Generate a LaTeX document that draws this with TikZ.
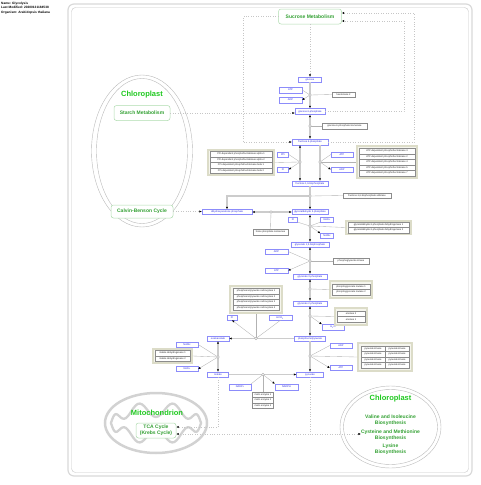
\documentclass[tikz,border=0pt]{standalone}
\usepackage{fontspec}
\setmainfont{Liberation Sans}
\usepackage{tikz}
\usetikzlibrary{calc, shapes.geometric, positioning, shapes, arrows, arrows.meta}

\definecolor{metblue}{RGB}{40,40,225}
\definecolor{metedge}{RGB}{140,140,250}
\definecolor{grpline}{RGB}{220,220,200}
\definecolor{grpfill}{RGB}{245,245,237}
\definecolor{cpgreen}{RGB}{30,200,30}
\definecolor{pwgreen}{RGB}{50,160,50}
\definecolor{pwedge}{RGB}{175,220,175}

\tikzset{
  met/.style={draw=metedge, text=metblue, fill=white, font=\fontsize{2.5}{3}\selectfont, inner sep=0pt, minimum height=5pt, line width=0.4pt},
  gene/.style={draw=gray!90, text=black!85, fill=white, font=\fontsize{2.4}{3}\selectfont, inner sep=0pt, minimum height=5.5pt, line width=0.3pt},
  grp/.style={draw=grpline, fill=grpfill, line width=1.2pt, inner sep=0pt},
  pw/.style={draw=pwedge, fill=white, text=pwgreen, rounded corners=2.5pt, font=\fontsize{5}{6}\selectfont\bfseries, inner sep=0pt, align=center, line width=0.5pt},
  pwtext/.style={text=pwgreen, font=\fontsize{5}{6.3}\selectfont\bfseries, inner sep=0pt, align=center},
  cptitle/.style={text=cpgreen, font=\fontsize{7.5}{9}\selectfont\bfseries, inner sep=0pt},
  hdr/.style={font=\fontsize{3.2}{4.8}\selectfont\bfseries, inner sep=0pt, align=left},
  conv/.style={draw=gray!40, line width=1.2pt},
  cofac/.style={draw=gray!60, line width=0.35pt},
  link/.style={draw=gray!45, dotted, line width=0.45pt},
  anc/.style={draw=gray!70, fill=white, line width=0.3pt}
}

\begin{document}
\begin{tikzpicture}[x=1pt, y=-1pt, >={Latex[length=2.4pt,width=2.2pt,color=black]}]
\useasboundingbox (0,0) rectangle (480,485);
\node[hdr, anchor=north west] (info) at (1,1.5) {Name: Glycolysis\\Last Modified: 20200131184538\\Organism: Arabidopsis thaliana};
% frame
\draw[gray!30, line width=1.2pt, rounded corners=6pt] (68,4) rectangle (472,476);
\draw[gray!45, line width=0.4pt, rounded corners=4pt] (71.5,7.5) rectangle (468.5,472.5);

% compartments
\draw[gray!55, line width=0.4pt] (142,151) ellipse [x radius=50.5pt, y radius=76pt];
\draw[gray!55, line width=0.4pt] (142,151) ellipse [x radius=45.5pt, y radius=72.5pt];
\draw[gray!55, line width=0.4pt] (390.5,427) ellipse [x radius=50.5pt, y radius=41pt];
\draw[gray!55, line width=0.4pt] (390.5,427) ellipse [x radius=47pt, y radius=37.5pt];
\draw[gray!35, line width=2.5pt] (156,423) ellipse [x radius=51pt, y radius=30pt];
\draw[gray!35, line width=2.3pt] plot[smooth cycle, samples=120, domain=0:357] ({156+45*cos(\x)},{423+(21-7.5*(1+cos(8*\x)))*sin(\x)});
\node[cptitle] (chlA) at (142,95) {Chloroplast};
\node[cptitle] (chlB) at (390.5,399) {Chloroplast};
\node[cptitle] (mito) at (157,413) {Mitochondrion};

% pathways
\node[pw, minimum width=63pt, minimum height=15pt] (sucrose) at (310,16.5) {Sucrose Metabolism};
\node[pw, minimum width=56pt, minimum height=15pt] (starch) at (142,113) {Starch Metabolism};
\node[pw, minimum width=62pt, minimum height=13pt] (calvin) at (142,211.5) {Calvin-Benson Cycle};
\node[pw, minimum width=40pt, minimum height=15pt] (tca) at (156,430.5) {TCA Cycle\\(Krebs Cycle)};
\node[pwtext] (val) at (390.5,420) {Valine and Isoleucine\\Biosynthesis};
\node[pwtext] (cys) at (390.5,435.5) {Cysteine and Methionine\\Biosynthesis};
\node[pwtext] (lys) at (390.5,449) {Lysine\\Biosynthesis};

% metabolites
\node[met, minimum width=23pt] (glc) at (310,79.5) {glucose};
\node[met, minimum width=23pt, minimum height=6pt] (atpA) at (290.5,90) {ATP};
\node[met, minimum width=23pt, minimum height=6pt] (adpA) at (290.5,100) {ADP};
\node[met, minimum width=30pt, minimum height=6pt] (g6p) at (310,111.5) {glucose 6-phosphate};
\node[met, minimum width=36pt, minimum height=6pt] (f6p) at (310,142) {fructose 6-phosphate};
\node[met, minimum width=11pt] (ppi) at (283,154.5) {PPi};
\node[met, minimum width=11pt] (piA) at (283,169.5) {Pi};
\node[met, minimum width=22pt] (atpB) at (342,154.5) {ATP};
\node[met, minimum width=22pt] (adpB) at (342,169.5) {ADP};
\node[met, minimum width=36pt] (fbp) at (310,183.5) {fructose 1,6-bisphosphate};
\node[met, minimum width=50pt] (dhap) at (227,212) {dihydroxyacetone phosphate};
\node[met, minimum width=36pt] (gap) at (310,212) {glyceraldehyde 3-phosphate};
\node[met, minimum width=9pt] (piB) at (293,219.5) {Pi};
\node[met, minimum width=13pt] (nadA) at (327,219.5) {NAD+};
\node[met, minimum width=13pt] (nadhA) at (327,236) {NADH};
\node[met, minimum width=38pt] (bpg) at (310,244.5) {glycerate 1,3-bisphosphate};
\node[met, minimum width=23pt] (adpC) at (276.5,251.5) {ADP};
\node[met, minimum width=23pt] (atpC) at (276.5,270.5) {ATP};
\node[met, minimum width=34pt] (pgC) at (310,276.5) {glycerate 3-phosphate};
\node[met, minimum width=34pt] (pgB) at (310,303.5) {glycerate 2-phosphate};
\node[met, minimum width=22pt, minimum height=6pt] (h2o) at (333,327.5) {H\textsubscript{2}O};
\node[met, minimum width=31pt] (pep) at (310,338.5) {phosphoenolpyruvate};
\node[met, minimum width=22pt] (oaa) at (218,338.5) {oxaloacetate};
\node[met, minimum width=10pt] (piC) at (232,317.5) {Pi};
\node[met, minimum width=23pt] (hco3) at (280.5,317.5) {HCO\textsubscript{3}\textsuperscript{-}};
\node[met, minimum width=22pt] (nadhB) at (187,344.5) {NADH};
\node[met, minimum width=22pt] (nadB) at (187,369) {NAD+};
\node[met, minimum width=21pt] (mal) at (218,374.5) {malate};
\node[met, minimum width=22pt] (adpD) at (341,345.5) {ADP};
\node[met, minimum width=22pt] (atpD) at (341,368) {ATP};
\node[met, minimum width=27pt] (pyr) at (310,374.5) {pyruvate};
\node[met, minimum width=22pt, minimum height=6pt] (nadp) at (240,387) {NADP+};
\node[met, minimum width=23pt, minimum height=6pt] (nadph) at (286.5,387) {NADPH};

% enzymes
\node[gene, minimum width=23pt] (hxk) at (343.5,94.5) {hexokinase 2};
\node[gene, minimum width=45pt] (pgi) at (344.5,126) {glucose-6-phosphate isomerase};
\node[gene, minimum width=48pt] (ald) at (367,195.5) {fructose-1,6-bisphosphate aldolase};
\node[gene, minimum width=35pt] (tpi) at (270.5,232) {triose phosphate isomerase};
\node[gene, minimum width=36pt] (pgk) at (351,261) {phosphoglycerate kinase};
\foreach \i in {1,2,3} \node[gene, minimum width=21pt] (me\i) at (263,389+5.5*\i) {malic enzyme \i};

\node[grp, minimum width=66pt, minimum height=25pt] (gPfp) at (241,162.5) {};
\foreach \s [count=\i] in {alpha 1, alpha 2, beta 1, beta 2}
  \node[gene, minimum width=62pt] (pfp\i) at (241,148.75+5.5*\i) {PPi-dependent phosphofructokinase \s};
\node[grp, minimum width=60pt, minimum height=32pt] (gPfk) at (387,162) {};
\foreach \s [count=\i] in {3,2,4,5,7}
  \node[gene, minimum width=56pt] (pfk\i) at (387,145.5+5.5*\i) {ATP-dependent phosphofructokinase \s};
\node[grp, minimum width=65pt, minimum height=13pt] (gGap) at (378.5,227.5) {};
\foreach \i in {1,2}
  \node[gene, minimum width=61pt] (gapdh\i) at (378.5,219.25+5.5*\i) {glyceraldehyde-3-phosphate dehydrogenase \i};
\node[grp, minimum width=42pt, minimum height=17pt] (gPgm) at (351,289.5) {};
\foreach \i in {1,2}
  \node[gene, minimum width=38pt] (pgm\i) at (351,281.25+5.5*\i) {phosphoglycerate mutase \i};
\node[grp, minimum width=32pt, minimum height=17pt] (gEno) at (351,316.5) {};
\foreach \s [count=\i] in {2,1}
  \node[gene, minimum width=28pt] (eno\i) at (351,308.25+5.5*\i) {enolase \s};
\node[grp, minimum width=52pt, minimum height=27pt] (gPepc) at (256,299.5) {};
\foreach \i in {1,...,4}
  \node[gene, minimum width=46pt] (pepc\i) at (256,285.75+5.5*\i) {phosphoenolpyruvate carboxylase \i};
\node[grp, minimum width=39pt, minimum height=14pt] (gMdh) at (172.5,356) {};
\foreach \i in {1,2}
  \node[gene, minimum width=35pt] (mdh\i) at (172.5,347.75+5.5*\i) {malate dehydrogenase \i};
\node[grp, minimum width=54pt, minimum height=28pt] (gPk) at (385,357) {};
\foreach \i in {1,...,4} {
  \node[gene, minimum width=24pt] (pkA\i) at (373,343.25+5.5*\i) {pyruvate kinase};
  \node[gene, minimum width=24pt] (pkB\i) at (397,343.25+5.5*\i) {pyruvate kinase};}

% reaction anchors
\coordinate (r1) at (310,95);   \coordinate (r2) at (310,126);
\coordinate (r3) at (300,162);  \coordinate (r4) at (320,162);
\coordinate (r5) at (310,196);  \coordinate (r6) at (271,212);
\coordinate (r7) at (310,226);  \coordinate (r8) at (310,261);
\coordinate (r9) at (310,289);  \coordinate (r10) at (310,316);
\coordinate (r11) at (256,338.5); \coordinate (r12) at (218,357);
\coordinate (r13) at (310,356); \coordinate (r14) at (263,374.5);
\coordinate (bendL) at (243,16.5); \coordinate (bendR) at (414,13);
\coordinate (bendG) at (404,21);   \coordinate (bendM) at (218,427);
\coordinate (bendP) at (310,434);

% conversions
\draw[conv,->] (glc) -- (g6p);
\draw[conv,<->] (g6p) -- (f6p);
\draw[conv,<->] (f6p.south -| r3) -- (fbp.north -| r3);
\draw[conv,->] (f6p.south -| r4) -- (fbp.north -| r4);
\draw[conv,->] (fbp) -- (gap);
\draw[conv,->] (r5) -| (dhap.north);
\draw[conv,<->] (dhap) -- (gap);
\draw[conv,<->] (gap) -- (bpg);
\draw[conv,<->] (bpg) -- (pgC);
\draw[conv,<->] (pgC) -- (pgB);
\draw[conv,<->] (pgB) -- (pep);
\draw[conv,->] (pep) -- (oaa);
\draw[conv,<->] (oaa) -- (mal);
\draw[conv,->] (pep) -- (pyr);
\draw[conv,->] (mal) -- (pyr);

% cofactors and enzymes
\draw[cofac] (atpA.east) -- (r1); \draw[cofac,->] (r1) -- (adpA.east); \draw[cofac] (r1) -- (hxk.west);
\draw[cofac] (r2) -- (pgi.west);
\draw[cofac] (ppi.east) -- (r3); \draw[cofac,->] (r3) -- (piA.east); \draw[cofac] (r3) -- (gPfp.east);
\draw[cofac] (atpB.west) -- (r4); \draw[cofac,->] (r4) -- (adpB.west); \draw[cofac] (r4) -- (gPfk.west);
\draw[cofac] (r5) -- (ald.west);
\draw[cofac] (r6) -- (tpi.north);
\draw[cofac] (piB.south east) -- (r7); \draw[cofac] (nadA.south west) -- (r7); \draw[cofac,->] (r7) -- (nadhA.north west); \draw[cofac] (r7) -- (gGap.west);
\draw[cofac] (adpC.east) -- (r8); \draw[cofac,->] (r8) -- (atpC.east); \draw[cofac] (r8) -- (pgk.west);
\draw[cofac] (r9) -- (gPgm.west);
\draw[cofac] (r10) -- (gEno.west); \draw[cofac,->] (r10) -- (h2o.north west);
\draw[cofac] (hco3.south) -- (r11); \draw[cofac,->] (r11) -- (piC.south); \draw[cofac] (r11) -- (gPepc.south);
\draw[cofac] (nadhB.east) -- (r12); \draw[cofac,->] (r12) -- (nadB.east); \draw[cofac] (gMdh.east) -- (r12);
\draw[cofac] (adpD.west) -- (r13); \draw[cofac,->] (r13) -- (atpD.west); \draw[cofac] (r13) -- (gPk.west);
\draw[cofac] (nadp.north east) -- (r14); \draw[cofac,->] (r14) -- (nadph.north west); \draw[cofac] (r14) -- (me1.north);

% pathway links
\draw[link,->] (sucrose.south) -- (glc.north);
\draw[link,->] (sucrose.west) -- (bendL) |- (f6p.west);
\draw[link,->] (f6p.east) -| (bendR) -- (bendR -| sucrose.east);
\draw[link,->] (g6p.east) -| (bendG) -- (bendG -| sucrose.east);
\draw[link,->] (starch.east) -- (starch.east -| g6p.west);
\draw[link,->] (calvin.east) -- (calvin.east -| dhap.west);
\draw[link,->] (mal.south) -- (bendM) -- (bendM -| tca.east);
\draw[link,->] (pyr.south) -- (bendP) -- (bendP -| tca.east);
\draw[link,->] (bendP) -- (bendP -| cys.west);

\foreach \i in {1,...,14} \draw[anc] (r\i) circle (1.3pt);
\end{tikzpicture}
\end{document}
